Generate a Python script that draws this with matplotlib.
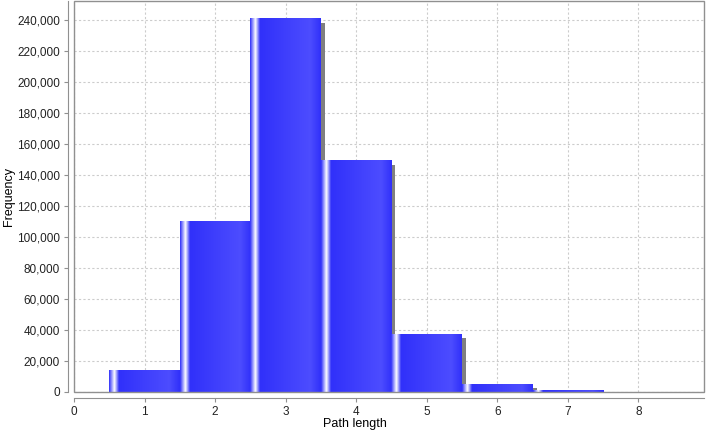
import numpy as np
import matplotlib
matplotlib.use('Agg')
from matplotlib import pyplot as plt
from matplotlib.patches import Rectangle
from matplotlib.ticker import FuncFormatter, MultipleLocator
import matplotlib.transforms as mtransforms

plt.rcParams['font.family'] = ['Liberation Sans', 'DejaVu Sans']

# Histogram of path lengths (bins of width 1 centred on each length)
path_length = [1, 2, 3, 4, 5, 6, 7, 8]
frequency   = [13700, 110000, 240600, 149000, 37300, 5100, 700, 0]
bin_width   = 1.0

# Gradient across each bar: base blue, white highlight near the left edge
base   = np.array([0.19, 0.19, 0.98])
bright = np.array([0.30, 0.30, 1.0])
white  = np.array([1.0, 1.0, 1.0])
stops  = [0.0, 0.075, 0.14, 0.85, 1.0]
cols   = [base, white, base, bright, base]

def gradient(n=200):
    t = np.linspace(0, 1, n)
    img = np.zeros((1, n, 3))
    for c in range(3):
        img[0, :, c] = np.interp(t, stops, [col[c] for col in cols])
    return img

W, H = 708, 437
fig = plt.figure(figsize=(W/100, H/100), dpi=100)
ax = fig.add_axes([74/W, 45/H, 630/W, 391/H])

# Dashed grid behind everything
ax.grid(True, color='#cccccc', linestyle=(0, (2, 2)), linewidth=0.8)
ax.set_axisbelow(True)

# Shadow offset 4 px right / 4 px down
shadow = mtransforms.offset_copy(ax.transData, fig=fig, x=4, y=-4, units='dots')
ax.bar(path_length, frequency, width=bin_width, color='#808080',
       transform=shadow, zorder=2, linewidth=0)

img = gradient()
for x, h in zip(path_length, frequency):
    if h <= 0:
        continue
    ax.imshow(img, extent=(x - bin_width/2, x + bin_width/2, 0, h),
              aspect='auto', zorder=3, interpolation='bilinear')

ax.set_xlim(0, 8.93)
ax.set_ylim(0, 252000)
ax.xaxis.set_major_locator(MultipleLocator(1))
ax.yaxis.set_major_locator(MultipleLocator(20000))
ax.yaxis.set_major_formatter(FuncFormatter(lambda v, p: '{:,.0f}'.format(v)))

# Plot outline plus detached axis lines, JFreeChart style
ax.add_patch(Rectangle((0, 0), 1, 1, transform=ax.transAxes, fill=False,
                       edgecolor='#909090', linewidth=1, zorder=5, clip_on=False))
for side in ['top', 'right']:
    ax.spines[side].set_visible(False)
for side in ['left', 'bottom']:
    ax.spines[side].set_position(('outward', 4))
    ax.spines[side].set_color('#909090')
ax.tick_params(direction='out', length=3, width=0.8, color='#909090',
               labelsize=8.5, labelcolor='#222222', pad=3)

# Axis titles placed by pixel position
fig.text(355/W, 1 - 424/H, 'Path length', fontsize=9, ha='center', va='center')
fig.text(9/W, 1 - 196/H, 'Frequency', fontsize=9, ha='center', va='center',
         rotation=90)

fig.savefig('out.png', dpi=100)
